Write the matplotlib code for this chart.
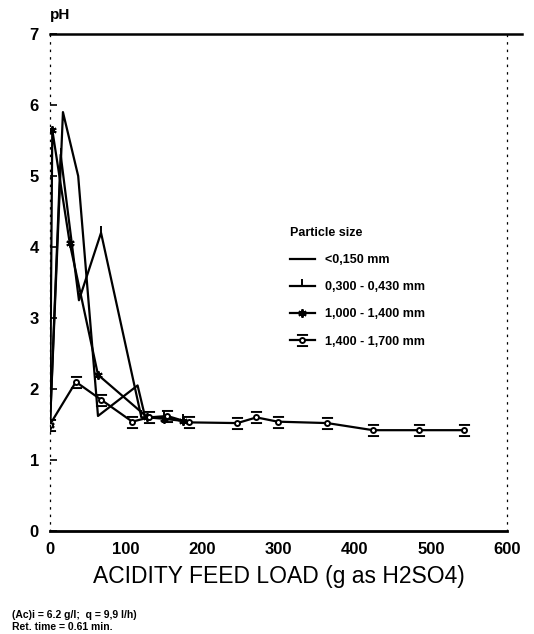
import matplotlib
matplotlib.use("Agg")
import matplotlib.pyplot as plt
import numpy as np
from matplotlib.path import Path

# ---- data ----
x_s1 = [0, 17, 37, 63, 115, 125, 150, 175]
y_s1 = [1.5, 5.9, 5.0, 1.62, 2.05, 1.6, 1.6, 1.55]

x_s2 = [0, 14, 38, 67, 120, 150, 175]
y_s2 = [1.5, 5.3, 3.25, 4.2, 1.6, 1.6, 1.55]

x_s3 = [0, 3, 26, 63, 128, 150, 175]
y_s3 = [1.5, 5.65, 4.05, 2.2, 1.6, 1.58, 1.55]

x_s4 = [0, 34, 67, 108, 130, 154, 182, 246, 271, 299, 364, 424, 484, 543]
y_s4 = [1.5, 2.1, 1.85, 1.54, 1.6, 1.62, 1.53, 1.52, 1.6, 1.54, 1.52, 1.42, 1.42, 1.42]

labels = ["<0,150 mm", "0,300 - 0,430 mm", "1,000 - 1,400 mm", "1,400 - 1,700 mm"]
xticks = [0, 100, 200, 300, 400, 500, 600]
yticks = [0, 1, 2, 3, 4, 5, 6, 7]

plt.rcParams['font.family'] = ['Liberation Sans', 'DejaVu Sans']

fig = plt.figure(figsize=(5.34, 6.34), dpi=100)
ax = fig.add_axes([50/534, 1-531/634, (507-50)/534, (531-34)/634])

# custom marker: circle with bars above and below
circ = Path.unit_circle()
verts = list(circ.vertices * 0.45)
codes = list(circ.codes)
verts += [(-1, 1.0), (1, 1.0), (-1, -1.0), (1, -1.0)]
codes += [Path.MOVETO, Path.LINETO, Path.MOVETO, Path.LINETO]
cap_marker = Path(verts, codes)

kw = dict(color='black', lw=1.6)
ax.plot(x_s1, y_s1, label=labels[0], **kw)
ax.plot(x_s2, y_s2, label=labels[1], marker=2, ms=5, mew=1.4, **kw)
ax.plot(x_s3, y_s3, label=labels[2], marker=(6, 2, 0), ms=6, mew=1.4, **kw)
ax.plot(x_s4, y_s4, label=labels[3], marker=cap_marker, ms=8, mew=1.4,
        mfc='white', **kw)

ax.set_xlim(0, 600)
ax.set_ylim(0, 7)
ax.set_xticks(xticks)
ax.set_yticks(yticks)
ax.tick_params(axis='x', length=0, pad=8, labelsize=12)
ax.tick_params(axis='y', direction='in', length=5, width=1.2, pad=8, labelsize=12)
for lab in ax.get_xticklabels() + ax.get_yticklabels():
    lab.set_fontweight('bold')

for s in ['left', 'right']:
    ax.spines[s].set_linestyle((0, (1, 5)))
    ax.spines[s].set_linewidth(0.9)
ax.spines['bottom'].set_linewidth(2.0)
ax.spines['top'].set_visible(False)
ax.plot([0, 620], [7, 7], color='black', lw=1.8, clip_on=False)

ax.set_xlabel("ACIDITY FEED LOAD (g as H2SO4)", fontsize=16.5, labelpad=6)
ax.text(0.0, 7.17, "pH", fontsize=11, fontweight='bold', ha='left', va='bottom')

leg = ax.legend(title="Particle size", loc='upper left',
                bbox_to_anchor=(0.50, 0.635), frameon=False,
                handlelength=2.0, handletextpad=0.8, labelspacing=1.22,
                prop={'weight': 'bold', 'size': 9})
leg.get_title().set_fontweight('bold')
leg.get_title().set_fontsize(9)
leg._legend_box.align = "left"

fig.text(12/534, 1-615/634, "(Ac)i = 6.2 g/l;  q = 9,9 l/h)", fontsize=7.5,
         fontweight='bold', va='center')
fig.text(12/534, 1-627/634, "Ret. time = 0.61 min.", fontsize=7.5,
         fontweight='bold', va='center')

fig.savefig("out.png", dpi=100)
